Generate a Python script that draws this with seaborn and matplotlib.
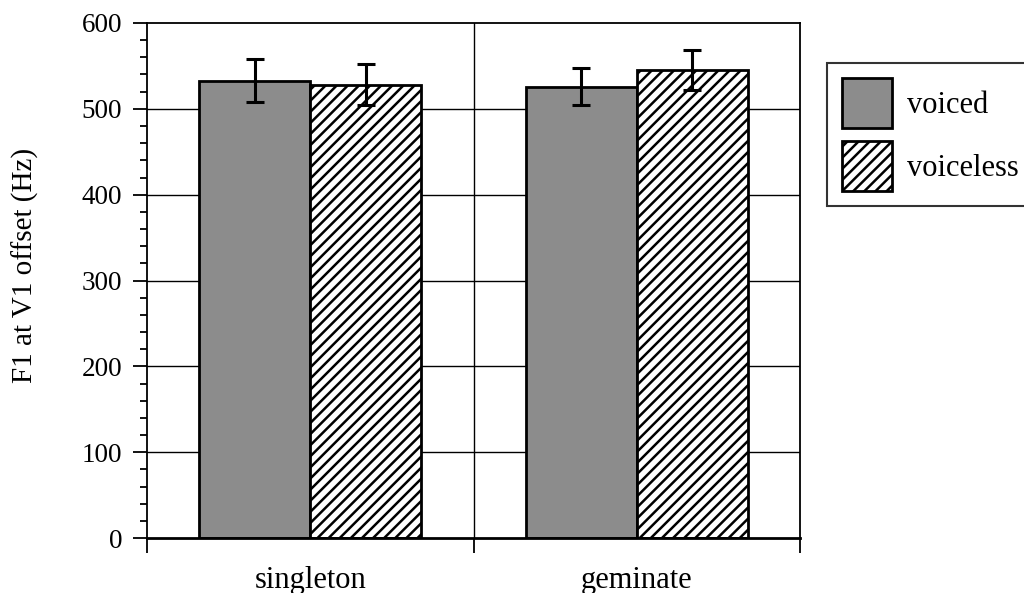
import numpy as np
import pandas as pd
import matplotlib
matplotlib.use("Agg")
import matplotlib.pyplot as plt
import seaborn as sns
from matplotlib.patches import Patch

categories = ["singleton", "geminate"]
voicing = ["voiced", "voiceless"]
f1_voiced = [533, 526]
f1_voiceless = [528, 545]
err_voiced = [25, 22]
err_voiceless = [24, 23]
y_ticks = [0, 100, 200, 300, 400, 500, 600]

sns.set_style("white")
plt.rcParams["font.family"] = ["Liberation Serif", "DejaVu Serif"]
plt.rcParams["hatch.linewidth"] = 1.8
for k in ["text.color", "axes.labelcolor", "xtick.color", "ytick.color"]:
    plt.rcParams[k] = "black"

gray = "#8c8c8c"

df = pd.DataFrame({
    "category": categories * 2,
    "voicing": [voicing[0]] * 2 + [voicing[1]] * 2,
    "f1": f1_voiced + f1_voiceless,
    "err": err_voiced + err_voiceless,
})

fig = plt.figure(figsize=(10.24, 5.93), dpi=100)
ax = fig.add_axes([147 / 1024, 1 - 538 / 593, 653 / 1024, 515 / 593])

sns.barplot(data=df, x="category", y="f1", hue="voicing", order=categories,
            hue_order=voicing, palette=[gray, "white"], width=0.68,
            errorbar=None, edgecolor="black", linewidth=2, legend=False,
            saturation=1, ax=ax, zorder=2)

# bars come in hue order: voiced x2 then voiceless x2
bars = ax.patches[:4]
for p in bars[2:]:
    p.set_hatch("///")
for p, (_, row) in zip(bars, df.iterrows()):
    xc = p.get_x() + p.get_width() / 2
    ax.errorbar(xc, row["f1"], yerr=row["err"], color="black", lw=2.2,
                capsize=6.5, capthick=2.2, zorder=4)

ax.set_xlim(-0.5, 1.5)
ax.set_ylim(0, 600)
ax.set_yticks(y_ticks)
ax.set_yticks(np.arange(0, 601, 20), minor=True)
ax.set_xticks([0, 1])
ax.set_xticks([-0.5, 0.5, 1.5], minor=True)
ax.set_xticklabels(categories, fontsize=22)
ax.tick_params(axis="x", which="major", length=0, pad=20)
ax.tick_params(axis="x", which="minor", length=11, width=1.3, direction="out", bottom=True)
ax.tick_params(axis="y", which="major", length=10, width=1.3, direction="out", left=True, labelsize=19.5, pad=8)
ax.tick_params(axis="y", which="minor", length=5, width=1.3, direction="out", left=True)

for yv in y_ticks[1:-1]:
    ax.axhline(yv, color="black", lw=1, zorder=0)
ax.axvline(0.5, color="black", lw=1, zorder=0)

for s in ax.spines.values():
    s.set_visible(True)
    s.set_color("black")
    s.set_linewidth(1.3)
ax.spines["bottom"].set_linewidth(2)

ax.set_xlabel("")
ax.set_ylabel("F1 at V1 offset (Hz)", fontsize=21)
ax.yaxis.set_label_coords(-0.165, 0.53)

handles = [Patch(facecolor=gray, edgecolor="black", linewidth=2, label="voiced"),
           Patch(facecolor="white", edgecolor="black", linewidth=2, hatch="///", label="voiceless")]
leg = ax.legend(handles=handles, loc="upper left", bbox_to_anchor=(1.041, 0.922),
                fontsize=22, frameon=True, fancybox=False, edgecolor="black",
                handlelength=1.63, handleheight=2.1, handletextpad=0.5,
                borderpad=0.5, labelspacing=0.45, borderaxespad=0)
leg.get_frame().set_linewidth(1.5)

fig.savefig("out.png", dpi=100)
